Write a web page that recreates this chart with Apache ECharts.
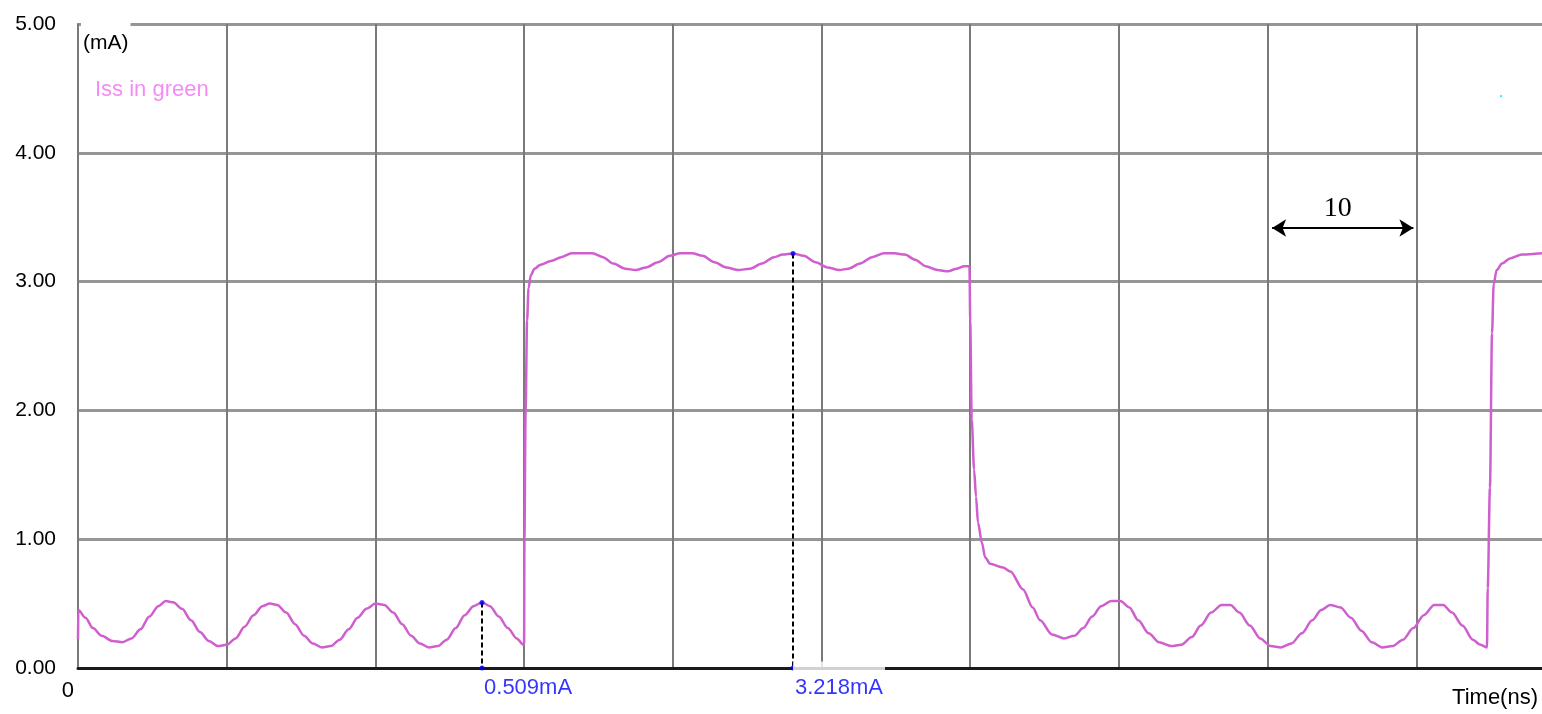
<!DOCTYPE html>
<html>
<head>
<meta charset="utf-8">
<script src="https://cdn.jsdelivr.net/npm/echarts@6/dist/echarts.min.js"></script>
<style>
  html, body { margin: 0; padding: 0; background: #fff; overflow: hidden; }
  #chart { width: 1542px; height: 714px; }
</style>
</head>
<body>
<div id="chart"></div>
<script>
// Supply current (mA) against time (ns)
const timeNs = [
  0, 0.02, 0.5, 1.0, 1.6, 2.3, 3.0, 3.6, 4.2, 4.8, 5.4, 5.9, 6.4, 7.0, 7.6, 8.2, 8.8, 9.4,
  10.0, 10.6, 11.2, 11.8, 12.4, 12.9, 13.4, 14.0, 14.6, 15.2, 15.8, 16.4, 17.0, 17.6, 18.2,
  18.8, 19.4, 20.0, 20.6, 21.2, 21.8, 22.4, 23.0, 23.6, 24.2, 24.8, 25.4, 26.0, 26.6, 27.17,
  27.7, 28.3, 28.9, 29.5, 29.95,
  30.0, 30.02, 30.1, 30.2, 30.3, 30.45, 30.7, 31.1, 31.8, 32.5, 33.2, 34.0, 34.6, 35.3, 36.0,
  36.8, 37.5, 38.2, 39.0, 39.8, 40.5, 41.3, 42.0, 42.8, 43.6, 44.4, 45.2, 46.0, 46.8, 47.4,
  48.08, 48.8, 49.6, 50.4, 51.2, 51.8, 52.6, 53.4, 54.2, 54.9, 55.6, 56.3, 57.0, 57.8, 58.5,
  59.1, 59.6, 59.9,
  59.95, 60.0, 60.1, 60.26, 60.39, 60.52, 60.79, 61.0, 61.33, 62.2, 62.7, 63.55, 64.2, 64.7,
  65.5, 66.3, 67.0, 67.6, 68.2, 68.8, 69.5, 70.1, 70.7, 71.3, 72.0, 72.7, 73.5, 74.2, 74.9,
  75.5, 76.2, 76.9, 77.5, 78.1, 78.8, 79.5, 80.2, 80.9, 81.6, 82.3, 83.0, 83.6, 84.2, 84.9,
  85.6, 86.3, 87.0, 87.7, 88.4, 89.1, 89.8, 90.5, 91.2, 91.8, 92.4, 93.1, 93.8, 94.3, 94.75,
  94.8, 94.95, 95.09, 95.2, 95.4, 95.76, 96.3, 97.1, 98.45
];
const issMA = [
  0.225, 0.45, 0.39, 0.31, 0.25, 0.21, 0.20, 0.23, 0.30, 0.40, 0.48, 0.52, 0.51, 0.46, 0.37,
  0.28, 0.21, 0.17, 0.18, 0.23, 0.32, 0.41, 0.48, 0.50, 0.49, 0.43, 0.34, 0.25, 0.19, 0.16,
  0.17, 0.22, 0.30, 0.39, 0.46, 0.50, 0.49, 0.43, 0.34, 0.25, 0.19, 0.16, 0.17, 0.22, 0.31,
  0.41, 0.48, 0.509, 0.48, 0.40, 0.31, 0.23, 0.18,
  0.18, 1.0, 2.0, 2.7, 2.95, 3.05, 3.10, 3.13, 3.16, 3.19, 3.22, 3.22, 3.22, 3.19, 3.14,
  3.10, 3.09, 3.11, 3.15, 3.20, 3.22, 3.22, 3.20, 3.15, 3.11, 3.09, 3.10, 3.14, 3.19, 3.21,
  3.218, 3.20, 3.15, 3.11, 3.09, 3.10, 3.14, 3.19, 3.22, 3.22, 3.21, 3.17, 3.12, 3.09, 3.08,
  3.10, 3.12, 3.12,
  3.12, 2.69, 1.93, 1.54, 1.33, 1.13, 0.97, 0.86, 0.81, 0.78, 0.75, 0.61, 0.47, 0.37,
  0.26, 0.23, 0.25, 0.31, 0.40, 0.48, 0.52, 0.52, 0.47, 0.37, 0.27, 0.20, 0.17, 0.18, 0.24,
  0.33, 0.43, 0.49, 0.49, 0.43, 0.33, 0.23, 0.17, 0.16, 0.19, 0.27, 0.37, 0.45, 0.49, 0.47,
  0.39, 0.29, 0.20, 0.16, 0.17, 0.22, 0.31, 0.41, 0.49, 0.49, 0.43, 0.33, 0.22, 0.18, 0.16,
  0.62, 1.4, 2.6, 2.98, 3.09, 3.14, 3.18, 3.21, 3.22
];

// Measurement cursors
const cursorTimes = [27.17, 48.08];
const cursorValues = [0.509, 3.218];

// Scale bar (10 ns)
const spanStart = 80.3;
const spanEnd = 89.8;
const spanLevel = 3.416;
const spanText = '10';

// Stray marker of the other trace
const strayPoint = [95.7, 4.44];

// Axis ticks
const yTickLabels = ['0.00', '1.00', '2.00', '3.00', '4.00', '5.00'];
const xTickLabels = { 0: '0' };

const FONT = "'Liberation Sans', Arial, sans-serif";
const SERIF = "'Liberation Serif', 'DejaVu Serif', serif";
const H_GRID = '#969696';
const V_GRID = '#7a7a7a';

const chart = echarts.init(document.getElementById('chart'));

const tracePoints = timeNs.map((t, i) => [t, issMA[i]]);

const cursorDots = [];
cursorTimes.forEach((t, i) => {
  cursorDots.push({ value: [t, cursorValues[i]] });
  cursorDots.push({
    value: [t, 0],
    label: {
      show: true,
      formatter: cursorValues[i].toFixed(3) + 'mA',
      position: 'bottom',
      align: 'left',
      distance: 0,
      offset: [0, -9],
      color: '#0000ff',
      fontSize: 22,
      fontFamily: FONT,
      backgroundColor: i === 1 ? '#fff' : 'transparent',
      padding: [15, 2, 0, 2]
    }
  });
});

const option = {
  animation: false,
  backgroundColor: '#fff',
  title: [
    {
      text: '(mA)',
      left: 81,
      top: 19,
      padding: [14, 2, 0, 2],
      backgroundColor: '#fff',
      textStyle: { fontSize: 21, fontWeight: 'normal', color: '#000', fontFamily: FONT }
    },
    {
      text: 'Iss in green',
      left: 95,
      top: 79,
      padding: 0,
      textStyle: { fontSize: 22, fontWeight: 'normal', color: '#f48cf4', fontFamily: FONT }
    }
  ],
  grid: { left: 78, right: 0, top: 24, bottom: 46, containLabel: false, outerBoundsMode: 'none' },
  xAxis: {
    type: 'value',
    min: 0,
    max: 98.45,
    interval: 10,
    name: 'Time(ns)',
    nameLocation: 'end',
    nameGap: -4,
    nameTextStyle: {
      align: 'right',
      verticalAlign: 'top',
      padding: [19, 0, 0, 0],
      fontSize: 22,
      color: '#000',
      fontFamily: FONT
    },
    axisLine: { show: true, lineStyle: { color: '#1a1a1a', width: 3 } },
    axisTick: { show: false },
    axisLabel: {
      formatter: v => (xTickLabels[v] !== undefined ? xTickLabels[v] : ''),
      align: 'right',
      margin: 12,
      padding: [0, 4, 0, 0],
      color: '#000',
      fontSize: 22,
      fontFamily: FONT
    },
    splitLine: { show: true, showMaxLine: false, lineStyle: { color: V_GRID, width: 2 } }
  },
  yAxis: {
    type: 'value',
    min: 0,
    max: 5,
    interval: 1,
    axisLine: { show: true, lineStyle: { color: V_GRID, width: 2 } },
    axisTick: { show: false },
    axisLabel: {
      formatter: v => yTickLabels[Math.round(v)],
      margin: 22,
      color: '#000',
      fontSize: 21,
      fontFamily: FONT
    },
    splitLine: { show: true, showMinLine: false, lineStyle: { color: H_GRID, width: 3 } }
  },
  series: [
    {
      name: 'Iss',
      type: 'line',
      data: tracePoints,
      showSymbol: false,
      smooth: 0.3,
      smoothMonotone: 'x',
      lineStyle: { color: '#cf5fcf', width: 2.5 },
      z: 3,
      markLine: {
        silent: true,
        symbol: ['arrow', 'arrow'],
        symbolSize: [13, 14],
        lineStyle: { color: '#000', width: 2, type: 'solid' },
        label: {
          show: true,
          position: 'insideMiddleTop',
          distance: 5,
          padding: [0, 10, 0, 0],
          formatter: spanText,
          color: '#000',
          fontSize: 28,
          fontFamily: SERIF
        },
        data: [[{ coord: [spanStart, spanLevel] }, { coord: [spanEnd, spanLevel] }]]
      }
    },
    {
      name: 'cursors',
      type: 'scatter',
      data: cursorDots,
      symbol: 'circle',
      symbolSize: 5,
      itemStyle: { color: '#0000ff' },
      z: 5,
      markLine: {
        silent: true,
        symbol: ['none', 'none'],
        lineStyle: { color: '#000', width: 2, type: [5, 3] },
        label: { show: false },
        data: cursorTimes.map((t, i) => [{ coord: [t, cursorValues[i]] }, { coord: [t, 0] }])
      }
    },
    {
      name: 'stray',
      type: 'scatter',
      data: [strayPoint],
      symbol: 'rect',
      symbolSize: 2,
      itemStyle: { color: '#00e5ee' },
      z: 4
    }
  ]
};

chart.setOption(option);
</script>
</body>
</html>
